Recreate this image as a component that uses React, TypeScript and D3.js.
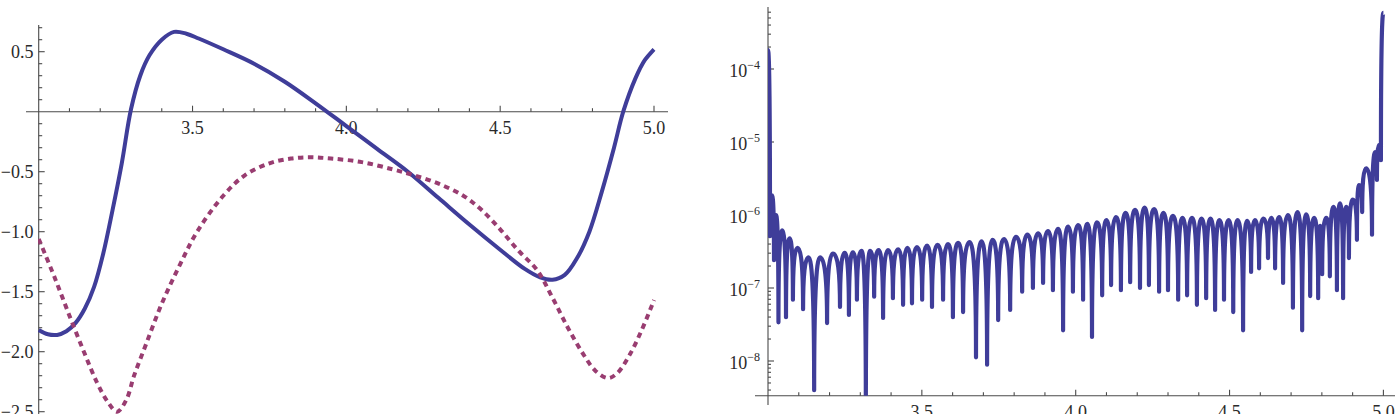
import React from 'react';
import * as d3 from 'd3';

// ---------- Left panel data (x, value) ----------
const solidCurve: [number, number][] = [
  [3.0, -1.82], [3.03, -1.855], [3.06, -1.86], [3.09, -1.83], [3.12, -1.76], [3.15, -1.64],
  [3.18, -1.46], [3.21, -1.18], [3.24, -0.82], [3.27, -0.43], [3.3, 0.02], [3.33, 0.3],
  [3.36, 0.47], [3.4, 0.6], [3.44, 0.665], [3.48, 0.65], [3.52, 0.61], [3.6, 0.52],
  [3.7, 0.4], [3.8, 0.25], [3.9, 0.07], [4.0, -0.12], [4.1, -0.31], [4.2, -0.5],
  [4.3, -0.72], [4.4, -0.94], [4.5, -1.15], [4.58, -1.31], [4.63, -1.38], [4.67, -1.4],
  [4.71, -1.36], [4.75, -1.22], [4.79, -1.0], [4.83, -0.67], [4.87, -0.3], [4.9, 0.0],
  [4.94, 0.28], [4.97, 0.43], [5.0, 0.52],
];

const dashedCurve: [number, number][] = [
  [3.0, -1.06], [3.05, -1.37], [3.1, -1.7], [3.15, -2.02], [3.19, -2.26], [3.225, -2.42],
  [3.255, -2.5], [3.285, -2.4], [3.31, -2.2], [3.35, -1.93], [3.4, -1.6], [3.46, -1.27],
  [3.515, -1.0], [3.6, -0.7], [3.67, -0.53], [3.75, -0.43], [3.82, -0.39], [3.88, -0.38],
  [3.95, -0.39], [4.05, -0.42], [4.15, -0.48], [4.22, -0.53], [4.3, -0.6], [4.38, -0.7],
  [4.44, -0.82], [4.5, -0.98], [4.56, -1.16], [4.62, -1.32], [4.67, -1.55], [4.72, -1.8],
  [4.77, -2.02], [4.81, -2.16], [4.85, -2.22], [4.88, -2.18], [4.92, -2.03], [4.96, -1.82],
  [5.0, -1.57],
];

const leftXLabels = [3.5, 4.0, 4.5, 5.0];
const leftYLabels = [0.5, -0.5, -1.0, -1.5, -2.0, -2.5];

// ---------- Right panel data: hump tops and spike bottoms, [x, log10(error)] ----------
const errPeaks: [number, number][] = [
  [3.0, -3.74], [3.013, -5.73], [3.026, -6.0], [3.046, -6.21], [3.07, -6.32], [3.096, -6.45],
  [3.132, -6.58], [3.169, -6.58], [3.211, -6.53], [3.249, -6.52], [3.276, -6.51], [3.304, -6.49],
  [3.332, -6.49], [3.359, -6.48], [3.39, -6.48], [3.423, -6.47], [3.453, -6.45], [3.484, -6.44],
  [3.517, -6.42], [3.551, -6.41], [3.585, -6.4], [3.618, -6.38], [3.655, -6.37], [3.694, -6.36],
  [3.73, -6.34], [3.767, -6.33], [3.806, -6.3], [3.843, -6.27], [3.878, -6.25], [3.91, -6.22],
  [3.943, -6.19], [3.975, -6.16], [4.008, -6.14], [4.038, -6.12], [4.069, -6.1], [4.1, -6.07],
  [4.131, -6.03], [4.162, -5.97], [4.193, -5.93], [4.224, -5.9], [4.255, -5.92], [4.285, -5.97],
  [4.316, -6.01], [4.347, -6.04], [4.378, -6.04], [4.409, -6.05], [4.438, -6.05], [4.467, -6.07],
  [4.497, -6.07], [4.526, -6.07], [4.557, -6.08], [4.583, -6.07], [4.61, -6.05], [4.636, -6.04],
  [4.661, -6.03], [4.69, -6.0], [4.721, -5.96], [4.749, -5.99], [4.775, -6.04], [4.794, -6.15],
  [4.814, -6.04], [4.838, -5.89], [4.859, -5.84], [4.879, -5.89], [4.901, -5.79], [4.921, -5.59],
  [4.944, -5.36], [4.973, -5.14], [4.986, -5.04], [5.0, -3.23],
];

const errDips: [number, number][] = [
  [3.0065, -6.29], [3.0195, -6.62], [3.034, -7.47], [3.0585, -7.4], [3.081, -7.16], [3.114, -7.29],
  [3.15, -8.4], [3.192, -7.48], [3.234, -7.26], [3.263, -7.37], [3.289, -7.16], [3.318, -8.7],
  [3.345, -7.12], [3.374, -7.41], [3.406, -7.14], [3.439, -7.23], [3.468, -7.21], [3.501, -7.16],
  [3.533, -7.26], [3.569, -7.16], [3.601, -7.4], [3.634, -7.33], [3.676, -7.95], [3.712, -8.05],
  [3.748, -7.44], [3.787, -7.3], [3.826, -7.05], [3.861, -7.0], [3.894, -6.93], [3.926, -7.03],
  [3.959, -7.58], [3.991, -7.05], [4.024, -7.16], [4.053, -7.67], [4.086, -7.1], [4.115, -6.96],
  [4.147, -7.03], [4.177, -6.92], [4.209, -7.0], [4.238, -6.96], [4.271, -7.05], [4.3, -7.03],
  [4.333, -7.16], [4.362, -7.1], [4.394, -7.23], [4.424, -7.14], [4.453, -7.3], [4.482, -7.16],
  [4.512, -7.33], [4.544, -7.58], [4.57, -6.78], [4.596, -6.73], [4.625, -6.59], [4.648, -6.73],
  [4.674, -6.93], [4.706, -7.27], [4.736, -7.58], [4.762, -7.11], [4.788, -7.14], [4.801, -6.81],
  [4.826, -6.84], [4.849, -7.03], [4.869, -7.14], [4.888, -6.59], [4.914, -6.34], [4.931, -5.96],
  [4.963, -6.27], [4.979, -5.52], [4.992, -5.25],
];

const rightXLabels = [3.5, 4.0, 4.5, 5.0];
const rightYDecades = [-8, -7, -6, -5, -4];

const BLUE = '#3f3d99';
const PURPLE = '#993d71';
const AXIS = '#4a4a4a';
const FONT = '"Liberation Serif", "Times New Roman", serif';

const fmtNum = (v: number) => (v < 0 ? '\u2212' : '') + Math.abs(v).toFixed(1);

export default function App() {
  const W = 1395;
  const H = 414;

  // Left panel scales
  const xL = d3.scaleLinear().domain([3, 5]).range([38.7, 654]);
  const yL = d3.scaleLinear().domain([0, 0.5]).range([111.7, 51.7]);

  // Right panel scales
  const xR = d3.scaleLinear().domain([3, 5]).range([768, 1383.4]);
  const yR = d3.scaleLog().domain([1e-8, 1e-4]).range([361, 69]);

  const lineL = d3
    .line<[number, number]>()
    .x((d) => xL(d[0]))
    .y((d) => yL(d[1]))
    .curve(d3.curveCatmullRom.alpha(0.5));

  // Right path: humps with rounded tops and sharp cusps at the dips
  type P = { x: number; y: number; peak: boolean };
  const pts: P[] = [];
  errPeaks.forEach((pk, i) => {
    pts.push({ x: xR(pk[0]), y: yR(Math.pow(10, pk[1])), peak: true });
    if (i < errDips.length) {
      const dp = errDips[i];
      pts.push({ x: xR(dp[0]), y: yR(Math.pow(10, dp[1])), peak: false });
    }
  });
  const rp = d3.path();
  rp.moveTo(pts[0].x, pts[0].y);
  for (let i = 1; i < pts.length; i++) {
    const a = pts[i - 1];
    const b = pts[i];
    const dip = a.peak ? b : a;
    const pk = a.peak ? a : b;
    rp.quadraticCurveTo(dip.x, pk.y, b.x, b.y);
  }

  // Left ticks
  const leftXTicks = d3.range(31, 51).map((k) => k / 10);
  const leftYTicks = d3.range(-25, 8).map((k) => k / 10).filter((v) => Math.abs(v) > 1e-9);
  const isMajor = (v: number) => Math.abs(v * 2 - Math.round(v * 2)) < 1e-6;

  // Right ticks
  const rightXTicks = d3.range(31, 51).map((k) => k / 10);
  const rightYMinor: number[] = [];
  for (let d = -9; d <= -4; d++) {
    for (let k = 2; k <= 9; k++) {
      const v = k * Math.pow(10, d);
      const py = yR(v);
      if (py >= 8 && py <= 396) rightYMinor.push(v);
    }
  }

  const axisLeftY = 111.7;
  const axisRightY = 395.7;

  return (
    <svg
      width={W}
      height={H}
      viewBox={`0 0 ${W} ${H}`}
      style={{ position: 'absolute', left: 0, top: 0, background: '#fff' }}
      fontFamily={FONT}
    >
      <defs>
        <clipPath id="clipR">
          <rect x={768} y={5} width={W - 768} height={axisRightY - 5} />
        </clipPath>
        <clipPath id="clipL">
          <rect x={38} y={0} width={630} height={H} />
        </clipPath>
      </defs>

      {/* ---------- Left panel ---------- */}
      <g stroke={AXIS} strokeWidth={1.1} fill="none">
        <line x1={26} x2={668} y1={axisLeftY} y2={axisLeftY} />
        <line x1={xL(3)} x2={xL(3)} y1={25} y2={H + 5} />
        {leftXTicks.map((v) => (
          <line
            key={'lxt' + v}
            x1={xL(v)}
            x2={xL(v)}
            y1={axisLeftY}
            y2={axisLeftY - (isMajor(v) ? 6 : 3.5)}
          />
        ))}
        {leftYTicks.map((v) => (
          <line
            key={'lyt' + v}
            x1={xL(3)}
            x2={xL(3) + (isMajor(v) ? 6 : 3.5)}
            y1={yL(v)}
            y2={yL(v)}
          />
        ))}
      </g>
      <g fontSize={18} fill="#2a2a2a">
        {leftXLabels.map((v) => (
          <text key={'lxl' + v} x={xL(v)} y={axisLeftY + 22} textAnchor="middle">
            {v.toFixed(1)}
          </text>
        ))}
        {leftYLabels.map((v) => (
          <text key={'lyl' + v} x={33.5} y={yL(v) + 6} textAnchor="end">
            {fmtNum(v)}
          </text>
        ))}
      </g>
      <g clipPath="url(#clipL)" fill="none" strokeWidth={4}>
        <path d={lineL(solidCurve) || ''} stroke={BLUE} strokeLinejoin="round" />
        <path d={lineL(dashedCurve) || ''} stroke={PURPLE} strokeDasharray="5.5 4.5" />
      </g>

      {/* ---------- Right panel ---------- */}
      <g stroke={AXIS} strokeWidth={1.1} fill="none">
        <line x1={755} x2={W} y1={axisRightY} y2={axisRightY} />
        <line x1={xR(3)} x2={xR(3)} y1={7} y2={405} />
        {rightXTicks.map((v) => (
          <line
            key={'rxt' + v}
            x1={xR(v)}
            x2={xR(v)}
            y1={axisRightY}
            y2={axisRightY - (isMajor(v) ? 6 : 3.5)}
          />
        ))}
        {rightYDecades.map((d) => (
          <line key={'ryt' + d} x1={xR(3)} x2={xR(3) + 6} y1={yR(Math.pow(10, d))} y2={yR(Math.pow(10, d))} />
        ))}
        {rightYMinor.map((v, i) => (
          <line key={'rym' + i} x1={xR(3)} x2={xR(3) + 3} y1={yR(v)} y2={yR(v)} />
        ))}
      </g>
      <g fontSize={18} fill="#2a2a2a">
        {rightXLabels.map((v) => (
          <text key={'rxl' + v} x={xR(v)} y={axisRightY + 22} textAnchor="middle">
            {v.toFixed(1)}
          </text>
        ))}
        {rightYDecades.map((d) => (
          <text key={'ryl' + d} x={760} y={yR(Math.pow(10, d)) + 8} textAnchor="end">
            <tspan>10</tspan>
            <tspan dy={-8} fontSize={12}>{'\u2212' + Math.abs(d)}</tspan>
          </text>
        ))}
      </g>
      <g clipPath="url(#clipR)">
        <path
          d={rp.toString()}
          fill="none"
          stroke={BLUE}
          strokeWidth={4.2}
          strokeLinejoin="round"
        />
      </g>
    </svg>
  );
}
